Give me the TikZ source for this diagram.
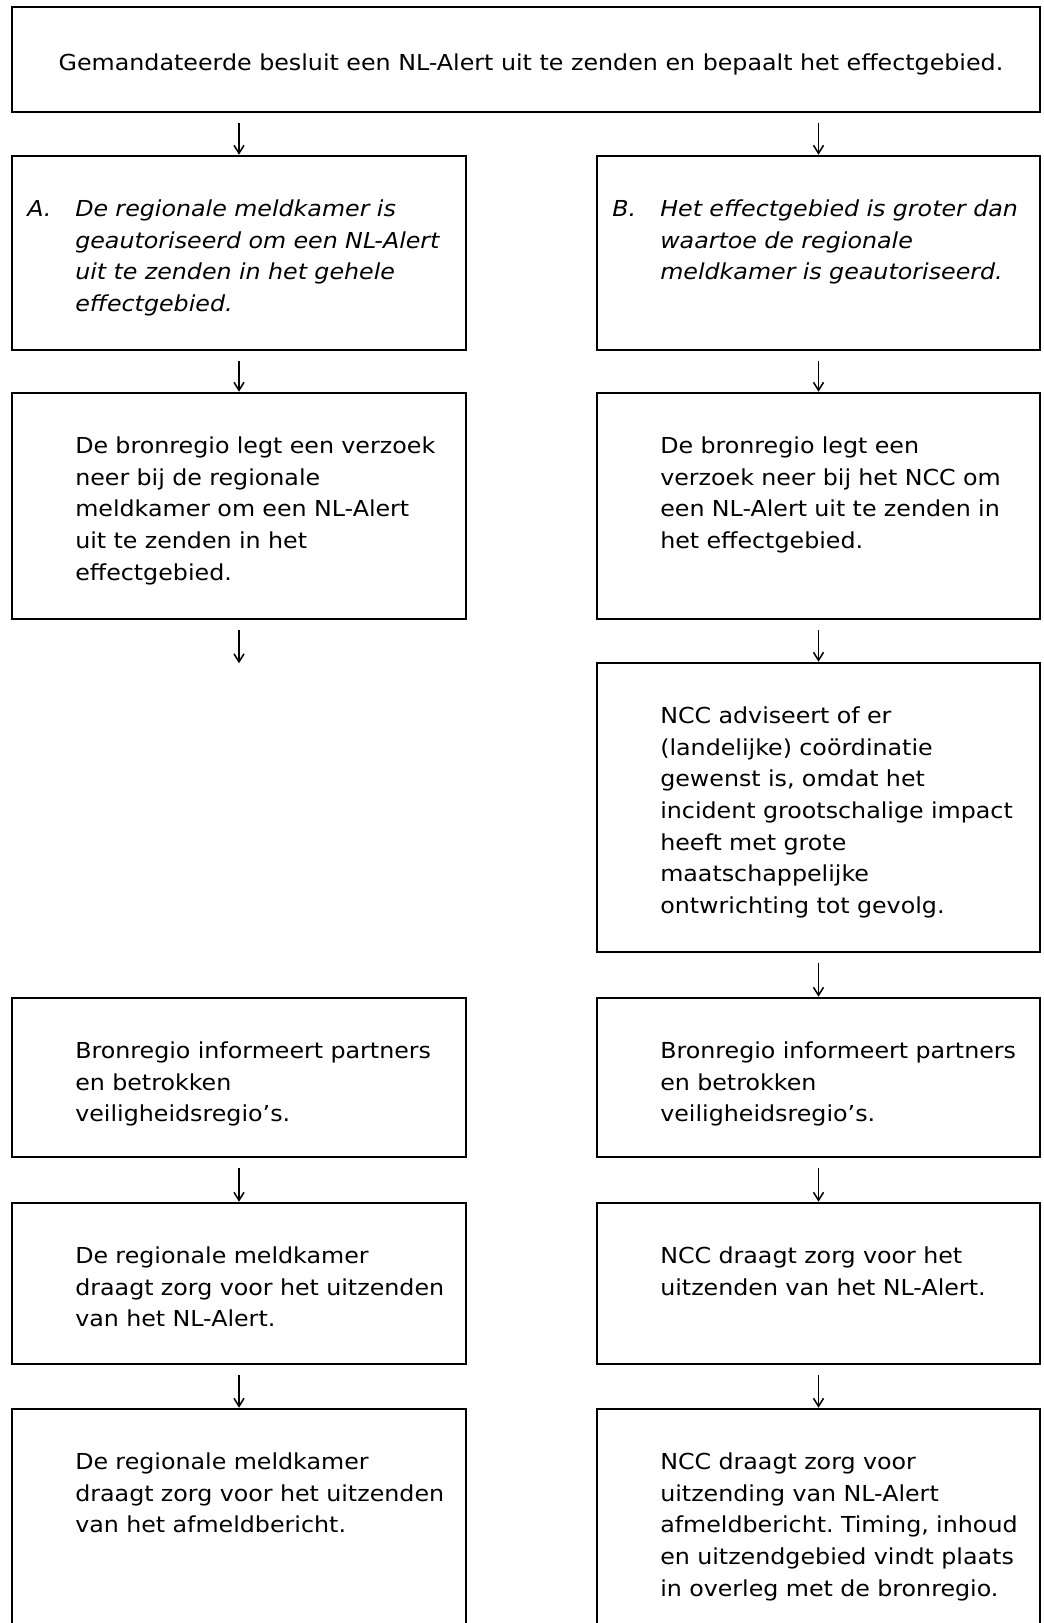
\documentclass[tikz,border=0pt]{standalone}
\usepackage{fontspec}
\setmainfont{DejaVu Sans}[FakeStretch=1.08]
\usetikzlibrary{arrows.meta,fit,calc}
\frenchspacing
\begin{document}
\begin{tikzpicture}[x=0.75pt,y=-0.75pt,
  box/.style={draw, line width=1.9pt, inner sep=0pt},
  txt/.style={anchor=north west, inner sep=0pt, align=left, text width=345pt,
    font=\fontsize{16.5}{23.75}\selectfont\frenchspacing},
  itxt/.style={txt, font=\fontsize{16.5}{23.75}\selectfont\itshape\frenchspacing},
  arr/.style={line width=1.15pt, -{Straight Barb[length=6pt,width=7.5pt,line width=1.15pt]}}]
\useasboundingbox (0,0) rectangle (1043,1623);
\clip (0,0) rectangle (1043,1623);
% boxes
\node[box, fit={(12,7) (1040,112)}] (top) {};
\node[box, fit={(12,156) (466,350)}] (A) {};
\node[box, fit={(597,156) (1040,350)}] (B) {};
\node[box, fit={(12,393) (466,619)}] (L2) {};
\node[box, fit={(597,393) (1040,619)}] (R2) {};
\node[box, fit={(597,663) (1040,952)}] (R3) {};
\node[box, fit={(12,998) (466,1157)}] (L4) {};
\node[box, fit={(597,998) (1040,1157)}] (R4) {};
\node[box, fit={(12,1203) (466,1364)}] (L5) {};
\node[box, fit={(597,1203) (1040,1364)}] (R5) {};
\node[box, fit={(12,1409) (466,1632)}] (L6) {};
\node[box, fit={(597,1409) (1040,1632)}] (R6) {};
% texts
\node[anchor=base, inner sep=0pt, font=\fontsize{16.5}{23.75}\selectfont] (ttop) at (531,71)
  {Gemandateerde besluit een NL-Alert uit te zenden en bepaalt het effectgebied.};
\node[itxt] (labA) at (27,194) {\strut A.};
\node[itxt] (tA) at (75,194) {\strut De regionale meldkamer is\\geautoriseerd om een NL-Alert\\uit te zenden in het gehele\\effectgebied.};
\node[itxt] (labB) at (612,194) {\strut B.};
\node[itxt] (tB) at (660,194) {\strut Het effectgebied is groter dan\\waartoe de regionale\\meldkamer is geautoriseerd.};
\node[txt] (tL2) at (75,431) {\strut De bronregio legt een verzoek\\neer bij de regionale\\meldkamer om een NL-Alert\\uit te zenden in het\\effectgebied.};
\node[txt] (tR2) at (660,431) {\strut De bronregio legt een\\verzoek neer bij het NCC om\\een NL-Alert uit te zenden in\\het effectgebied.};
\node[txt] (tR3) at (660,701) {\strut NCC adviseert of er\\(landelijke) coördinatie\\gewenst is, omdat het\\incident grootschalige impact\\heeft met grote\\maatschappelijke\\ontwrichting tot gevolg.};
\node[txt] (tL4) at (75,1036) {\strut Bronregio informeert partners\\en betrokken\\veiligheidsregio’s.};
\node[txt] (tR4) at (660,1036) {\strut Bronregio informeert partners\\en betrokken\\veiligheidsregio’s.};
\node[txt] (tL5) at (75,1241) {\strut De regionale meldkamer\\draagt zorg voor het uitzenden\\van het NL-Alert.};
\node[txt] (tR5) at (660,1241) {\strut NCC draagt zorg voor het\\uitzenden van het NL-Alert.};
\node[txt] (tL6) at (75,1447) {\strut De regionale meldkamer\\draagt zorg voor het uitzenden\\van het afmeldbericht.};
\node[txt] (tR6) at (660,1447) {\strut NCC draagt zorg voor\\uitzending van NL-Alert\\afmeldbericht. Timing, inhoud\\en uitzendgebied vindt plaats\\in overleg met de bronregio.};
% arrows
\coordinate (Lend) at ($(L2.south)+(0,43)$);
\draw[arr] ($(top.south -| A.north)+(0,10)$) -- (A.north);
\draw[arr] ($(top.south -| B.north)+(0,10)$) -- (B.north);
\draw[arr] ($(A.south)+(0,10)$) -- (L2.north);
\draw[arr] ($(B.south)+(0,10)$) -- (R2.north);
\draw[arr] ($(L2.south)+(0,10)$) -- (Lend);
\draw[arr] ($(R2.south)+(0,10)$) -- (R3.north);
\draw[arr] ($(R3.south)+(0,10)$) -- (R4.north);
\draw[arr] ($(L4.south)+(0,10)$) -- (L5.north);
\draw[arr] ($(R4.south)+(0,10)$) -- (R5.north);
\draw[arr] ($(L5.south)+(0,10)$) -- (L6.north);
\draw[arr] ($(R5.south)+(0,10)$) -- (R6.north);
\end{tikzpicture}
\end{document}
